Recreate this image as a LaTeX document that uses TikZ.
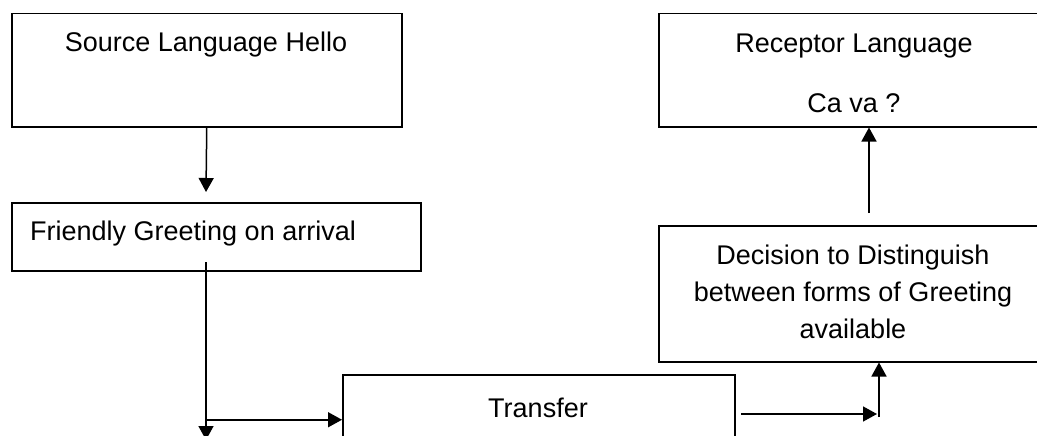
\documentclass[tikz,border=0pt]{standalone}
\usepackage{fontspec}
\setmainfont{Liberation Sans}
\usetikzlibrary{arrows.meta}

\tikzset{
  box/.style={draw, rectangle, line width=1.5pt, inner sep=0pt, anchor=north west},
  txt/.style={anchor=base, inner sep=0pt, font=\fontsize{27}{37}\selectfont, align=center},
  arr/.style={line width=1.5pt, -{Triangle[width=15pt,length=14pt]}}
}

\begin{document}
\begin{tikzpicture}[x=1pt, y=-1pt]
  \clip (0,0) rectangle (1037,436);

  % boxes
  \node[box, minimum width=390pt, minimum height=113pt] (src) at (11,13) {};
  \node[box, minimum width=409pt, minimum height=68pt] (fri) at (11,202) {};
  \node[box, minimum width=392pt, minimum height=90pt] (trf) at (342,374) {};
  \node[box, minimum width=392pt, minimum height=136pt] (dec) at (658,225) {};
  \node[box, minimum width=392pt, minimum height=113pt] (rec) at (658,13) {};

  % texts (base = last line)
  \node[txt] (srctxt) at (206,52) {Source Language Hello};
  \node[txt, anchor=base west] (fritxt) at (30,240) {Friendly Greeting on arrival};
  \node[txt] (trftxt) at (538,417) {Transfer};
  \node[txt] (dectxt) at (853,338) {Decision to Distinguish\\between forms of Greeting\\available};
  \node[txt] (rectxt) at (854,113) {Receptor Language\\[24pt]Ca va ?};

  % arrows
  \coordinate (a1) at (206,192);
  \draw[arr] (src.south) -- (a1);

  \coordinate (d0) at (206,262);
  \coordinate (d1) at (206,440);
  \draw[arr] (d0) -- (d1);
  \draw[arr] (d0 |- trf.west) -- (trf.west);

  \coordinate (r0) at (741,414);
  \coordinate (r1) at (877,414);
  \draw[arr] (r0) -- (r1);

  \coordinate (u0) at (879,417);
  \draw[arr] (u0) -- (u0 |- dec.south);

  \coordinate (u1) at (869,213);
  \draw[arr] (u1) -- (u1 |- rec.south);
\end{tikzpicture}
\end{document}
